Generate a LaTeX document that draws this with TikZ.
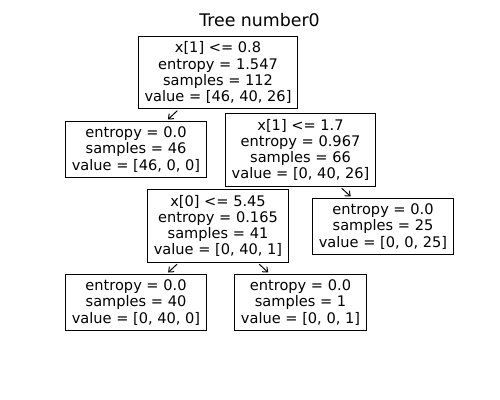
\documentclass[tikz,border=0pt]{standalone}
\usepackage{fontspec}
\setmainfont{DejaVu Sans}
\usetikzlibrary{arrows.meta}
\begin{document}
\begin{tikzpicture}[x=0.72pt,y=-0.72pt,
  treenode/.style={draw=black, fill=white, line width=0.7pt, align=center,
    inner xsep=4.5pt, inner ysep=4.1pt, font=\fontsize{10.5}{11.6}\selectfont},
  edge/.style={line width=0.7pt, shorten >=1.4pt, shorten <=1.4pt,
    -{Straight Barb[length=3pt,width=5pt]}}]
\useasboundingbox (0,0) rectangle (500,400);
\node[font=\fontsize{12.5}{14}\selectfont] (title) at (259.5,20) {Tree number0};
\node[treenode] (n0) at (218,72.5) {x[1] <= 0.8\\entropy = 1.547\\samples = 112\\value = [46, 40, 26]};
\node[treenode] (n1) at (136,149.5) {entropy = 0.0\\samples = 46\\value = [46, 0, 0]};
\node[treenode] (n2) at (300.5,150) {x[1] <= 1.7\\entropy = 0.967\\samples = 66\\value = [0, 40, 26]};
\node[treenode] (n3) at (218,226) {x[0] <= 5.45\\entropy = 0.165\\samples = 41\\value = [0, 40, 1]};
\node[treenode] (n6) at (383,226.5) {entropy = 0.0\\samples = 25\\value = [0, 0, 25]};
\node[treenode] (n4) at (136,302.5) {entropy = 0.0\\samples = 40\\value = [0, 40, 0]};
\node[treenode] (n5) at (300.5,302.5) {entropy = 0.0\\samples = 1\\value = [0, 0, 1]};
\draw[edge] (n0) -- (n1);
\draw[edge] (n2) -- (n6);
\draw[edge] (n3) -- (n4);
\draw[edge] (n3) -- (n5);
\end{tikzpicture}
\end{document}
